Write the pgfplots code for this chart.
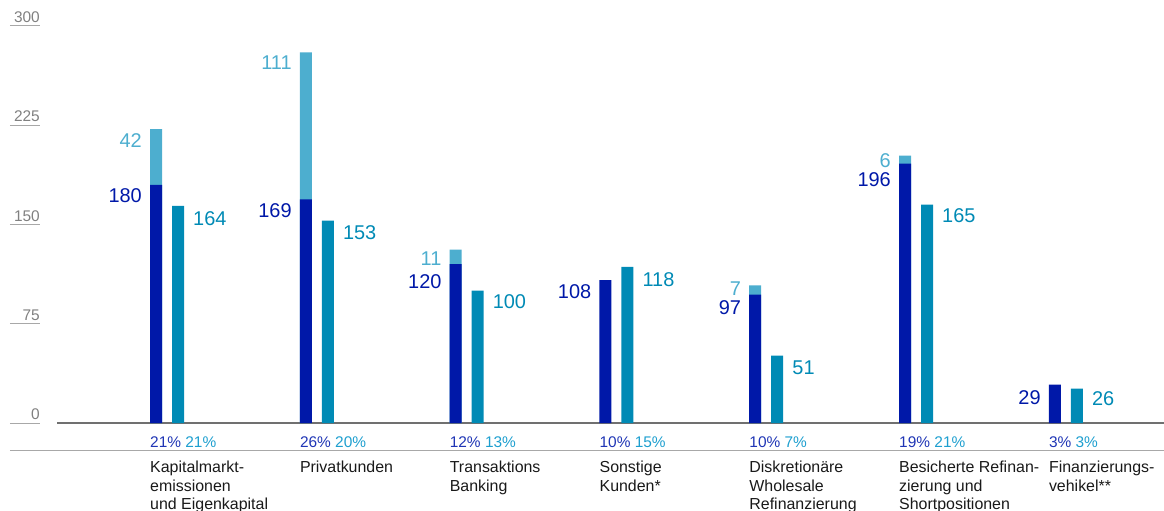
\documentclass[border=0pt]{standalone}
\usepackage{fontspec}
\setmainfont{Liberation Sans}
\usepackage{pgfplots}
\usepackage{pgfplotstable}
\pgfplotsset{compat=1.18}

\definecolor{dbblue}{HTML}{0018A8}
\definecolor{dbteal}{HTML}{008AB5}
\definecolor{dblight}{HTML}{4DAECF}
\definecolor{pctblue}{HTML}{1F35B5}
\definecolor{pctteal}{HTML}{1E9FCF}
\definecolor{axgray}{HTML}{707070}
\definecolor{lngray}{HTML}{A8A8A8}
\definecolor{lblgray}{HTML}{808080}

\newcommand{\pct}[2]{{\fontsize{15.5}{18}\selectfont\color{pctblue}#1\%\ \color{pctteal}#2\%}}

% x, bar top, label, label shift (pt)
\pgfplotstableread{
x     y    lab  dy
0     222  42   -4
1     280  111  -3.5
2     131  11   -2
4     104  7    3.5
5     202  6    2.5
}\lightdata
\pgfplotstableread{
x     y    lab  dy
0     180  180  -4
1     169  169  -4.5
2     120  120  -10
3     108  108  -4
4     97   97   -5.5
5     196  196  -8.5
6     29   29   -6
}\darkdata
\pgfplotstableread{
x      y    lab  dy
0.147  164  164  -5
1.147  153  153  -5
2.147  100  100  -4
3.147  118  118  -6
4.147  51   51   -5
5.147  165  165  -4
6.147  26   26   -3
}\tealdata

\begin{document}
\begin{tikzpicture}
\path[use as bounding box] (-57bp,-88bp) rectangle (1107bp,423bp);
\begin{axis}[
    scale only axis,
    width=1107bp, height=397bp,
    xmin=-0.661, xmax=6.729,
    ymin=0, ymax=300,
    clip=false,
    axis x line*=bottom,
    axis y line*=left,
    x axis line style={-, draw=axgray, line width=1.2bp},
    y axis line style={draw=none},
    ybar, bar width=12bp, bar shift=0pt,
    xtick={0,...,6},
    xtick style={draw=none},
    xticklabels={
        {\pct{21}{21}\\[6.5bp]Kapitalmarkt-\\emissionen\\und Eigenkapital},
        {\pct{26}{20}\\[6.5bp]Privatkunden},
        {\pct{12}{13}\\[6.5bp]Transaktions\\Banking},
        {\pct{10}{15}\\[6.5bp]Sonstige\\Kunden*},
        {\pct{10}{7}\\[6.5bp]Diskretionäre\\Wholesale\\Refinanzierung},
        {\pct{19}{21}\\[6.5bp]Besicherte Refinan-\\zierung und\\Shortpositionen},
        {\pct{3}{3}\\[6.5bp]Finanzierungs-\\vehikel**}},
    xticklabel style={anchor=north west, align=left, inner sep=0pt,
        xshift=-6bp, yshift=16bp, text=black!90,
        font=\fontsize{16}{18.5}\selectfont},
    ytick={0,75,150,225,300},
    tick align=outside,
    major tick length=30bp,
    ytick style={draw=lngray, line width=1bp, xshift=-17bp},
    yticklabel style={anchor=south east, inner sep=0pt, xshift=13bp, yshift=3bp,
        text=lblgray, font=\fontsize{15.5}{18}\selectfont},
    /pgf/number format/assume math mode=true,
    point meta=explicit symbolic,
    nodes near coords,
    visualization depends on={\thisrow{dy} \as \dy},
]

% light segments (drawn to the stacked total, labelled with their own value)
\addplot[fill=dblight, draw=none,
    every node near coord/.append style={anchor=north east, xshift=-14bp, yshift=\dy pt,
        inner sep=0pt, text=dblight, font=\fontsize{20}{24}\selectfont}]
    table[x=x, y=y, meta=lab] {\lightdata};

% dark segments
\addplot[fill=dbblue, draw=none,
    every node near coord/.append style={anchor=north east, xshift=-14bp, yshift=\dy pt,
        inner sep=0pt, text=dbblue, font=\fontsize{20}{24}\selectfont}]
    table[x=x, y=y, meta=lab] {\darkdata};

% teal bars
\addplot[fill=dbteal, draw=none,
    every node near coord/.append style={anchor=north west, xshift=15bp, yshift=\dy pt,
        inner sep=0pt, text=dbteal, font=\fontsize{20}{24}\selectfont}]
    table[x=x, y=y, meta=lab] {\tealdata};

\draw[lngray, line width=1bp] ([xshift=-47bp,yshift=-27bp]rel axis cs:0,0)
    -- ([yshift=-27bp]rel axis cs:1,0);
\end{axis}
\end{tikzpicture}
\end{document}
